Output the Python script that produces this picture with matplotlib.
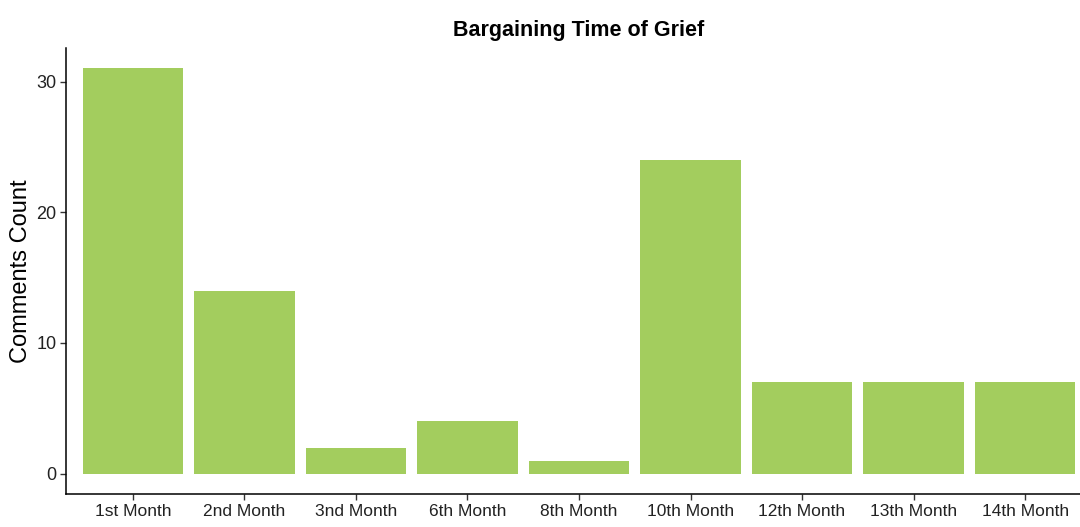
import matplotlib
matplotlib.use("Agg")
import matplotlib.pyplot as plt
from matplotlib import font_manager

months = ["1st Month", "2nd Month", "3nd Month", "6th Month", "8th Month",
          "10th Month", "12th Month", "13th Month", "14th Month"]
counts = [31, 14, 2, 4, 1, 24, 7, 7, 7]
yticks = [0, 10, 20, 30]

names = {f.name for f in font_manager.fontManager.ttflist}
narrow = "Liberation Sans Narrow" if "Liberation Sans Narrow" in names else "Liberation Sans"

fig = plt.figure(figsize=(10.8, 5.27), dpi=100)
ax = fig.add_axes([0.0611, 0.0626, 0.95, 0.846])

x = list(range(1, len(months) + 1))
ax.bar(x, counts, width=0.9, color="#A3CD5E")

ax.set_xlim(0.4, len(months) + 0.6)
ax.set_ylim(-1.55, 32.55)
ax.set_xticks(x)
ax.set_xticklabels(months, fontfamily=narrow, fontsize=12.5, color="#222222")
ax.set_yticks(yticks)
ax.set_yticklabels([str(t) for t in yticks], fontfamily=narrow, fontsize=13, color="#222222")
ax.tick_params(length=4, width=1, color="#333333", pad=3)

for s in ["top", "right"]:
    ax.spines[s].set_visible(False)
for s in ["left", "bottom"]:
    ax.spines[s].set_linewidth(1.1)
    ax.spines[s].set_color("black")

# y label placed by hand so it stays inside the figure
fig.text(21 / 1080, 1 - 271 / 527, "Comments Count", rotation=90, ha="center", va="center",
         fontfamily="Liberation Sans", fontsize=17)
ax.set_title("Bargaining Time of Grief", fontfamily="Liberation Sans", fontweight="bold",
             fontsize=15.5, pad=9)

fig.savefig("out.png", dpi=100)
